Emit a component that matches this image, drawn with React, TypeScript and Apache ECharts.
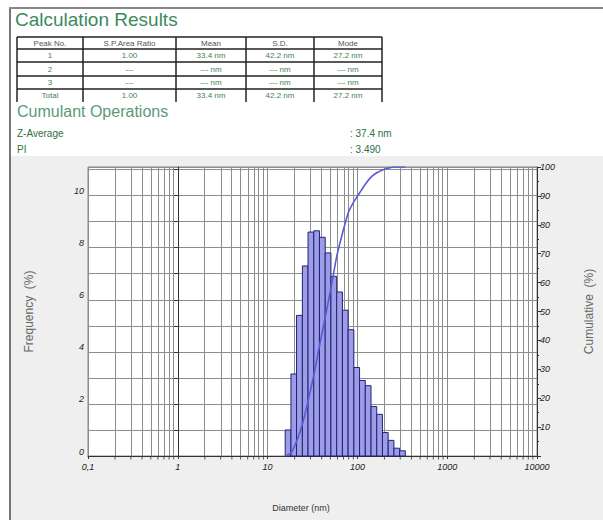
import React, { useEffect, useRef } from 'react';
import * as echarts from 'echarts';

// ---- data ----
const binEdges = [15.7, 18.2, 21.0, 24.4, 28.2, 32.7, 37.8, 43.8, 50.7, 58.8, 68.1, 78.8, 91.3, 105.7, 122.4, 141.8, 164.2, 190.1, 220.2, 255.0, 295.3, 342.0];
const frequency = [1.0, 3.15, 5.4, 7.3, 8.6, 8.65, 8.4, 7.8, 6.9, 6.3, 5.6, 4.85, 3.4, 2.9, 2.7, 1.9, 1.6, 0.9, 0.6, 0.3, 0.2];
const cumulative = [0, 1, 5, 11, 19, 28, 38, 48, 58, 69, 77, 84, 88, 91, 94, 96.5, 98, 99, 99.6, 100, 100, 100];
const xTickLabels = ['0,1', '1', '10', '100', '1000', '10000'];
const tableHeader = ['Peak No.', 'S.P.Area Ratio', 'Mean', 'S.D.', 'Mode'];
const tableRows = [
  ['1', '1.00', '33.4 nm', '42.2 nm', '27.2 nm'],
  ['2', '---', '--- nm', '--- nm', '--- nm'],
  ['3', '---', '--- nm', '--- nm', '--- nm'],
  ['Total', '1.00', '33.4 nm', '42.2 nm', '27.2 nm'],
];
const zAverage = '37.4 nm';
const pi = '3.490';

// layout
const colX = [17, 83, 176, 246, 314, 382];
const rowY = [37, 49, 62, 76, 89, 102];

export default function App() {
  const ref = useRef<HTMLDivElement>(null);
  useEffect(() => {
    if (!ref.current) return;
    const chart = echarts.init(ref.current, undefined, { renderer: 'svg' });
    const lg = (v: number) => Math.log10(v);
    const minorXs: number[] = [];
    for (let e = -1; e < 4; e++) for (let k = 2; k <= 9; k++) minorXs.push(lg(k * Math.pow(10, e)));

    const graphics: any[] = [];
    graphics.push({ type: 'text', left: 15, top: 10, style: { text: 'Calculation Results', font: '19px "Liberation Sans", Arial', fill: '#3d8a5c' } });
    for (let r = 0; r < 5; r++) {
      graphics.push({ type: 'line', shape: { x1: colX[0], y1: rowY[r], x2: colX[5], y2: rowY[r] }, style: { stroke: '#222', lineWidth: 1.5 } });
    }
    for (let c = 0; c < 6; c++) {
      graphics.push({ type: 'line', shape: { x1: colX[c], y1: rowY[0], x2: colX[c], y2: rowY[5] }, style: { stroke: '#222', lineWidth: 1.5 } });
    }
    const allRows = [tableHeader, ...tableRows];
    allRows.forEach((row, r) => {
      row.forEach((t, c) => {
        graphics.push({
          type: 'text',
          x: (colX[c] + colX[c + 1]) / 2,
          y: (rowY[r] + rowY[r + 1]) / 2,
          style: { text: t, font: '8px "Liberation Sans", Arial', fill: r === 0 ? '#555' : '#3f7f4f', align: 'center', verticalAlign: 'middle' },
        });
      });
    });
    graphics.push({ type: 'text', left: 17, top: 103, style: { text: 'Cumulant Operations', font: '16px "Liberation Sans", Arial', fill: '#5a9a78' } });
    graphics.push({ type: 'text', left: 17, top: 128, style: { text: 'Z-Average', font: '10px "Liberation Sans", Arial', fill: '#2f6f3f' } });
    graphics.push({ type: 'text', left: 350, top: 128, style: { text: ': ' + zAverage, font: '10px "Liberation Sans", Arial', fill: '#2f6f3f' } });
    graphics.push({ type: 'text', left: 17, top: 144, style: { text: 'PI', font: '10px "Liberation Sans", Arial', fill: '#2f6f3f' } });
    graphics.push({ type: 'text', left: 350, top: 144, style: { text: ': ' + pi, font: '10px "Liberation Sans", Arial', fill: '#2f6f3f' } });
    graphics.push({ type: 'text', x: 301, y: 508, style: { text: 'Diameter (nm)', font: '9px "Liberation Sans", Arial', fill: '#333', align: 'center', verticalAlign: 'middle' } });

    const labelFont = { fontSize: 9, color: '#222', fontStyle: 'italic' as const, fontFamily: '"Liberation Sans", Arial' };

    chart.setOption({
      animation: false,
      grid: { left: 88, right: 57, top: 167, bottom: 64, show: true, backgroundColor: '#fff', borderColor: '#888', borderWidth: 1 },
      graphic: graphics,
      xAxis: {
        type: 'value', min: -1, max: 4, interval: 1,
        axisLine: { show: true, onZero: false, lineStyle: { color: '#333' } },
        axisTick: { show: true, length: 3, lineStyle: { color: '#333' } },
        axisLabel: { ...labelFont, margin: 6, formatter: (v: number) => xTickLabels[Math.round(v) + 1] ?? '' },
        splitLine: { show: true, lineStyle: { color: '#8c8c8c', width: 1 } },
      },
      yAxis: [
        {
          type: 'value', min: 0, max: 11.1, interval: 1, position: 'left',
          name: 'Frequency  (%)', nameLocation: 'middle', nameGap: 53,
          nameTextStyle: { fontSize: 12, color: '#666', fontFamily: '"Liberation Sans", Arial' },
          axisLine: { show: true, lineStyle: { color: '#333' } },
          axisTick: { show: true, length: 4, lineStyle: { color: '#333' } },
          axisLabel: { ...labelFont, margin: 4, showMaxLabel: false, verticalAlign: 'bottom', formatter: (v: number) => (Math.round(v) % 2 === 0 && v <= 10 ? String(v) : '') },
          splitLine: { show: true, lineStyle: { color: '#8c8c8c', width: 1 } },
        },
        {
          type: 'value', min: 0, max: 100, interval: 10, position: 'right',
          name: 'Cumulative  (%)', nameLocation: 'middle', nameGap: 46,
          nameTextStyle: { fontSize: 12, color: '#666', fontFamily: '"Liberation Sans", Arial' },
          axisLine: { show: true, lineStyle: { color: '#333' } },
          axisTick: { show: true, length: 4, lineStyle: { color: '#333' } },
          minorTick: { show: true, splitNumber: 2, length: 2, lineStyle: { color: '#333' } },
          axisLabel: { ...labelFont, margin: 3, showMinLabel: false },
          splitLine: { show: false },
        },
      ],
      series: [
        {
          type: 'line', data: [[-1, 0]], showSymbol: false, lineStyle: { opacity: 0 }, silent: true, z: 1,
          markLine: {
            silent: true, symbol: ['none', 'none'], label: { show: false }, z: 1,
            lineStyle: { color: '#8c8c8c', width: 1, type: 'solid' },
            emphasis: { disabled: true },
            data: minorXs.map((v) => ({ xAxis: v })),
          },
        },
        {
          type: 'scatter', data: minorXs.map((v) => [v, 0]), symbol: 'rect', symbolSize: [1, 3], symbolOffset: [0, 2],
          itemStyle: { color: '#333' }, silent: true, clip: false, z: 2,
        },
        {
          type: 'custom', xAxisIndex: 0, yAxisIndex: 0, z: 3,
          data: frequency.map((f, i) => [lg(binEdges[i]), lg(binEdges[i + 1]), f]),
          encode: { x: [0, 1], y: 2 },
          renderItem: (params: any, api: any) => {
            const p0 = api.coord([api.value(0), api.value(2)]);
            const p1 = api.coord([api.value(1), 0]);
            return {
              type: 'rect',
              shape: { x: p0[0], y: p0[1], width: p1[0] - p0[0], height: p1[1] - p0[1] },
              style: { fill: '#9c9ce8', stroke: '#22226f', lineWidth: 1 },
            };
          },
        },
        {
          type: 'line', yAxisIndex: 1, z: 4, showSymbol: false, smooth: 0.2,
          data: binEdges.map((d, i) => [lg(d), cumulative[i]]),
          lineStyle: { color: '#5a5ad6', width: 1.6 },
        },
      ],
    });
    return () => chart.dispose();
  }, []);

  return (
    <div style={{ position: 'absolute', left: 0, top: 0, width: 603, height: 520, background: '#fff', overflow: 'hidden' }}>
      <div style={{ position: 'absolute', left: 11, top: 156, width: 592, height: 364, background: '#efefef' }} />
      <div style={{ position: 'absolute', left: 9, top: 7, width: 2, height: 513, background: '#777' }} />
      <div style={{ position: 'absolute', left: 9, top: 7, width: 594, height: 2, background: '#888' }} />
      <div ref={ref} style={{ position: 'absolute', left: 0, top: 0, width: 603, height: 520 }} />
    </div>
  );
}
